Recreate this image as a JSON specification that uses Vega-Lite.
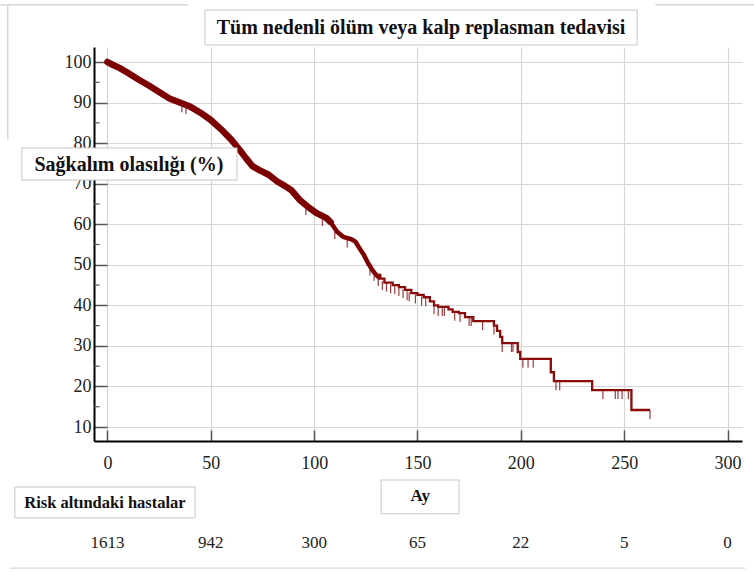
{
  "$schema": "https://vega.github.io/schema/vega-lite/v6.json",
  "width": 648,
  "height": 394,
  "autosize": {"type": "none"},
  "padding": {"left": 94, "top": 47, "right": 12, "bottom": 131},
  "background": "white",
  "config": {
    "view": {"stroke": null},
    "font": "Liberation Serif",
    "axis": {
      "grid": true,
      "gridColor": "#d6d6d6",
      "gridWidth": 1.2,
      "domainColor": "#000000",
      "domainWidth": 2,
      "tickColor": "#555555",
      "tickWidth": 1.5,
      "labelFont": "Liberation Serif",
      "labelFontSize": 18,
      "labelColor": "#222222",
      "title": null
    }
  },
  "datasets": {
    "km": [
      {"t": 0, "s": 100}, {"t": 3, "s": 99.2}, {"t": 6, "s": 98.5}, {"t": 10, "s": 97.3},
      {"t": 15, "s": 95.7}, {"t": 20, "s": 94.2}, {"t": 25, "s": 92.6}, {"t": 30, "s": 91.0},
      {"t": 35, "s": 90.0}, {"t": 40, "s": 89.0}, {"t": 45, "s": 87.5}, {"t": 50, "s": 85.7},
      {"t": 55, "s": 83.4}, {"t": 60, "s": 80.8}, {"t": 64, "s": 78.3}, {"t": 67, "s": 76.3},
      {"t": 70, "s": 74.4}, {"t": 74, "s": 73.2}, {"t": 78, "s": 72.2}, {"t": 82, "s": 70.6},
      {"t": 86, "s": 69.4}, {"t": 89, "s": 68.4}, {"t": 93, "s": 66.0}, {"t": 97, "s": 64.3},
      {"t": 101, "s": 62.8}, {"t": 106, "s": 61.5}, {"t": 108, "s": 60.5}, {"t": 111, "s": 58.2},
      {"t": 114, "s": 56.9}, {"t": 118, "s": 56.3}, {"t": 120, "s": 55.7}, {"t": 122, "s": 54.0},
      {"t": 124, "s": 52.5}, {"t": 126, "s": 50.5}, {"t": 128, "s": 48.8}, {"t": 130, "s": 47.5},
      {"t": 132, "s": 46.6}, {"t": 134, "s": 45.6}, {"t": 138, "s": 45.0}, {"t": 141, "s": 44.5},
      {"t": 144, "s": 43.8}, {"t": 147, "s": 43.0}, {"t": 150, "s": 42.6}, {"t": 153, "s": 42.0},
      {"t": 156, "s": 41.0}, {"t": 158, "s": 40.0}, {"t": 160, "s": 39.6}, {"t": 165, "s": 39.0},
      {"t": 167, "s": 38.4}, {"t": 170, "s": 38.1}, {"t": 173, "s": 37.1}, {"t": 177, "s": 36.1},
      {"t": 187, "s": 35.0}, {"t": 188.5, "s": 33.7}, {"t": 190, "s": 32.2}, {"t": 191, "s": 30.7},
      {"t": 198.5, "s": 28.5}, {"t": 199.7, "s": 26.8}, {"t": 214.5, "s": 23.5}, {"t": 216, "s": 21.3},
      {"t": 234.5, "s": 19.1}, {"t": 253.5, "s": 14.2}, {"t": 262.5, "s": 14.2}
    ],
    "cens": [
      {"t": 36, "s": 89.8}, {"t": 38, "s": 89.4}, {"t": 96, "s": 64.5}, {"t": 104, "s": 61.8},
      {"t": 110, "s": 58.6}, {"t": 116, "s": 56.5}, {"t": 127, "s": 49.6}, {"t": 129, "s": 48.3},
      {"t": 131, "s": 47.0}, {"t": 133, "s": 46.0}, {"t": 135, "s": 45.6}, {"t": 137, "s": 45.2},
      {"t": 139, "s": 45.0}, {"t": 141, "s": 44.5}, {"t": 143, "s": 44.0}, {"t": 145, "s": 43.5},
      {"t": 146, "s": 43.2}, {"t": 149, "s": 42.7}, {"t": 152, "s": 42.2}, {"t": 154, "s": 42.0},
      {"t": 158, "s": 40.0}, {"t": 160, "s": 39.6}, {"t": 162, "s": 39.6}, {"t": 163, "s": 39.6},
      {"t": 168, "s": 38.4}, {"t": 170.6, "s": 38.1}, {"t": 175, "s": 37.1}, {"t": 176, "s": 37.1},
      {"t": 181.5, "s": 36.1}, {"t": 187, "s": 35.0}, {"t": 191, "s": 30.7}, {"t": 195.5, "s": 30.7},
      {"t": 196.2, "s": 30.7}, {"t": 201, "s": 26.8}, {"t": 203.5, "s": 26.8}, {"t": 206, "s": 26.8},
      {"t": 217, "s": 21.3}, {"t": 218.8, "s": 21.3}, {"t": 239.7, "s": 19.1}, {"t": 245.7, "s": 19.1},
      {"t": 247, "s": 19.1}, {"t": 249, "s": 19.1}, {"t": 252, "s": 19.1}, {"t": 262.5, "s": 14.2}
    ],
    "risk": [
      {"t": 0, "n": "1613"}, {"t": 50, "n": "942"}, {"t": 100, "n": "300"}, {"t": 150, "n": "65"},
      {"t": 200, "n": "22"}, {"t": 250, "n": "5"}, {"t": 300, "n": "0"}
    ],
    "minor": [
      {"v": 15}, {"v": 25}, {"v": 35}, {"v": 45}, {"v": 55}, {"v": 65}, {"v": 75}, {"v": 85}, {"v": 95}
    ]
  },
  "layer": [
    {
      "data": {"name": "km"},
      "transform": [{"filter": "datum.t <= 108"}],
      "mark": {"type": "line", "color": "#7d0000", "strokeWidth": 6.5, "strokeCap": "round", "strokeJoin": "round"},
      "encoding": {
        "x": {
          "field": "t", "type": "quantitative", "title": null,
          "scale": {"domain": [-6.5, 307], "nice": false, "zero": false},
          "axis": {"values": [0, 50, 100, 150, 200, 250, 300], "tickSize": -11, "labelPadding": 24, "title": null}
        },
        "y": {
          "field": "s", "type": "quantitative", "title": null,
          "scale": {"domain": [6.55, 103.7], "nice": false, "zero": false},
          "axis": {"values": [10, 20, 30, 40, 50, 60, 70, 80, 90, 100], "tickSize": -13, "labelPadding": 16, "title": null}
        }
      }
    },
    {
      "data": {"name": "km"},
      "transform": [{"filter": "datum.t >= 106 && datum.t <= 132"}],
      "mark": {"type": "line", "color": "#7d0000", "strokeWidth": 4.5, "strokeJoin": "round"},
      "encoding": {
        "x": {"field": "t", "type": "quantitative", "title": null},
        "y": {"field": "s", "type": "quantitative", "title": null}
      }
    },
    {
      "data": {"name": "km"},
      "transform": [{"filter": "datum.t >= 130"}],
      "mark": {"type": "line", "color": "#8b0a0a", "strokeWidth": 2.3, "interpolate": "step-after"},
      "encoding": {
        "x": {"field": "t", "type": "quantitative", "title": null},
        "y": {"field": "s", "type": "quantitative", "title": null}
      }
    },
    {
      "data": {"name": "cens"},
      "mark": {"type": "tick", "orient": "vertical", "color": "#8b1a1a", "size": 9, "thickness": 1.2, "yOffset": 4.5, "opacity": 0.85},
      "encoding": {
        "x": {"field": "t", "type": "quantitative", "title": null},
        "y": {"field": "s", "type": "quantitative", "title": null}
      }
    },
    {
      "data": {"name": "minor"},
      "mark": {"type": "rule", "color": "#555555", "strokeWidth": 1.2},
      "encoding": {
        "x": {"datum": -6.5},
        "x2": {"datum": -3.8},
        "y": {"field": "v", "type": "quantitative", "title": null}
      }
    },
    {
      "data": {"values": [{}]},
      "layer": [
        {"mark": {"type": "rule", "color": "#cfcfcf", "strokeWidth": 1.2},
         "encoding": {"x": {"datum": -52}, "x2": {"datum": 39}, "y": {"datum": 114.1}}},
        {"mark": {"type": "rule", "color": "#cfcfcf", "strokeWidth": 1.2},
         "encoding": {"x": {"datum": 265}, "x2": {"datum": 313}, "y": {"datum": 114.1}}},
        {"mark": {"type": "rule", "color": "#cfcfcf", "strokeWidth": 1.2},
         "encoding": {"x": {"datum": -48.2}, "y": {"datum": 114.1}, "y2": {"datum": 80.8}}},
        {"mark": {"type": "rule", "color": "#d8d8d8", "strokeWidth": 1.2},
         "encoding": {"x": {"datum": -47}, "x2": {"datum": 308.6}, "y": {"datum": -24.8}}},
        {"mark": {"type": "rect", "fill": "white", "stroke": "#c8c8c8", "strokeWidth": 1},
         "encoding": {"x": {"datum": 47.2}, "x2": {"datum": 256.3}, "y": {"datum": 112.8}, "y2": {"datum": 104.2}}},
        {"mark": {"type": "text", "font": "Liberation Serif", "fontWeight": "bold", "fontSize": 20, "color": "#111111", "baseline": "middle", "align": "center"},
         "encoding": {"x": {"datum": 151.7}, "y": {"datum": 108.5}, "text": {"value": "Tüm nedenli ölüm veya kalp replasman tedavisi"}}},
        {"mark": {"type": "rect", "fill": "white", "stroke": "#c8c8c8", "strokeWidth": 1},
         "encoding": {"x": {"datum": -41.4}, "x2": {"datum": 62.7}, "y": {"datum": 78.8}, "y2": {"datum": 70.9}}},
        {"mark": {"type": "text", "font": "Liberation Serif", "fontWeight": "bold", "fontSize": 20, "color": "#111111", "baseline": "middle", "align": "center"},
         "encoding": {"x": {"datum": 10.4}, "y": {"datum": 74.7}, "text": {"value": "Sağkalım olasılığı (%)"}}},
        {"mark": {"type": "rect", "fill": "white", "stroke": "#c8c8c8", "strokeWidth": 1},
         "encoding": {"x": {"datum": -44.8}, "x2": {"datum": 42.4}, "y": {"datum": -4.8}, "y2": {"datum": -12.4}}},
        {"mark": {"type": "text", "font": "Liberation Serif", "fontWeight": "bold", "fontSize": 16.5, "color": "#111111", "baseline": "middle", "align": "center"},
         "encoding": {"x": {"datum": -1.2}, "y": {"datum": -8.7}, "text": {"value": "Risk altındaki hastalar"}}},
        {"mark": {"type": "rect", "fill": "white", "stroke": "#c8c8c8", "strokeWidth": 1},
         "encoding": {"x": {"datum": 132.4}, "x2": {"datum": 170.1}, "y": {"datum": -3.06}, "y2": {"datum": -11.4}}},
        {"mark": {"type": "text", "font": "Liberation Serif", "fontWeight": "bold", "fontSize": 17, "color": "#111111", "baseline": "middle", "align": "center"},
         "encoding": {"x": {"datum": 151.3}, "y": {"datum": -7.0}, "text": {"value": "Ay"}}}
      ]
    },
    {
      "data": {"name": "risk"},
      "mark": {"type": "text", "font": "Liberation Serif", "fontSize": 17, "color": "#222222", "baseline": "middle", "align": "center"},
      "encoding": {
        "x": {"field": "t", "type": "quantitative", "title": null},
        "y": {"datum": -18.6},
        "text": {"field": "n"}
      }
    }
  ]
}
